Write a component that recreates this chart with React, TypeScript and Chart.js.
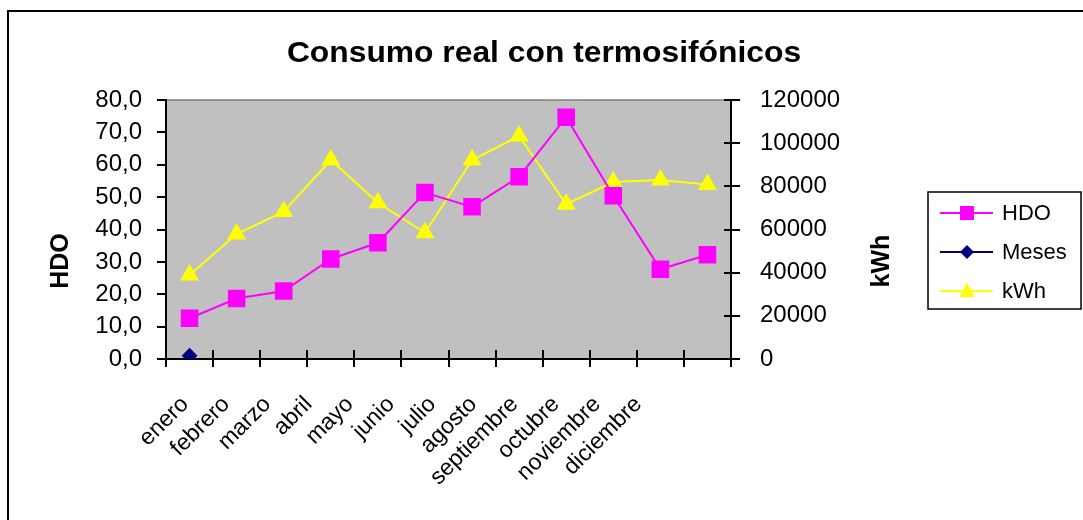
import React, { useEffect, useRef } from "react";
import { Chart, registerables } from "chart.js";

Chart.register(...registerables);

const months = ["enero", "febrero", "marzo", "abril", "mayo", "junio", "julio", "agosto", "septiembre", "octubre", "noviembre", "diciembre"];
const hdo = [12.6, 18.7, 21.0, 30.9, 35.9, 51.4, 47.0, 56.3, 74.7, 50.4, 27.7, 32.2];
const meses = [1, null, null, null, null, null, null, null, null, null, null, null];
const kwh = [38900, 57900, 68300, 92200, 72400, 58500, 92200, 103300, 71700, 82000, 82900, 80900];
const titleText = "Consumo real con termosifónicos";
const leftTitle = "HDO";
const rightTitle = "kWh";

const FONT = "'Liberation Sans', Arial, sans-serif";
const AREA = { left: 166, right: 731, top: 100, bottom: 359 };

const decor = {
  id: "decor",
  beforeDraw(chart: any) {
    const { ctx, chartArea: a } = chart;
    ctx.save();
    ctx.fillStyle = "#ffffff";
    ctx.fillRect(0, 0, chart.width, chart.height);
    ctx.fillStyle = "#C0C0C0";
    ctx.fillRect(a.left, a.top, a.right - a.left, a.bottom - a.top);
    ctx.strokeStyle = "#808080";
    ctx.lineWidth = 1.5;
    ctx.beginPath();
    ctx.moveTo(a.left, a.top);
    ctx.lineTo(a.right, a.top);
    ctx.stroke();
    ctx.strokeStyle = "#000";
    ctx.lineWidth = 2;
    ctx.beginPath();
    ctx.moveTo(8, 530);
    ctx.lineTo(8, 11);
    ctx.lineTo(1090, 11);
    ctx.stroke();
    ctx.restore();
  },
  afterDraw(chart: any) {
    const { ctx, chartArea: a, scales } = chart;
    ctx.save();
    ctx.strokeStyle = "#000";
    ctx.lineWidth = 2;
    const n = months.length;
    const step = (a.right - a.left) / n;
    ctx.beginPath();
    for (let i = 0; i <= n; i++) {
      const px = Math.round(a.left + i * step);
      ctx.moveTo(px, a.bottom);
      ctx.lineTo(px, a.bottom - 9);
    }
    const y1 = scales.y1;
    for (let v = 0; v <= 120000; v += 20000) {
      const py = Math.round(y1.getPixelForValue(v));
      ctx.moveTo(a.right, py);
      ctx.lineTo(a.right - 7, py);
    }
    ctx.stroke();
    // title
    ctx.fillStyle = "#000";
    ctx.textAlign = "center";
    ctx.textBaseline = "middle";
    ctx.font = `bold 30px ${FONT}`;
    ctx.save();
    ctx.translate(544, 54);
    ctx.scale(1.06, 1);
    ctx.fillText(titleText, 0, 0);
    ctx.restore();
    // axis titles
    ctx.font = `bold 25px ${FONT}`;
    ctx.save();
    ctx.translate(61, 261);
    ctx.rotate(-Math.PI / 2);
    ctx.fillText(leftTitle, 0, 0);
    ctx.restore();
    ctx.save();
    ctx.translate(882, 261);
    ctx.rotate(-Math.PI / 2);
    ctx.fillText(rightTitle, 0, 0);
    ctx.restore();
    // legend
    ctx.lineWidth = 1.5;
    ctx.strokeStyle = "#000";
    ctx.strokeRect(928, 192, 153, 117);
    const ys = [213, 252, 291];
    ctx.font = `22px ${FONT}`;
    ctx.textAlign = "left";
    chart.data.datasets.forEach((d: any, i: number) => {
      const yy = ys[i];
      ctx.strokeStyle = d.borderColor;
      ctx.lineWidth = 2;
      ctx.beginPath();
      ctx.moveTo(940, yy);
      ctx.lineTo(993, yy);
      ctx.stroke();
      ctx.fillStyle = d.pointBackgroundColor;
      ctx.beginPath();
      if (d.pointStyle === "rect") {
        ctx.rect(960, yy - 7, 14, 14);
      } else if (d.pointStyle === "rectRot") {
        ctx.moveTo(967, yy - 7);
        ctx.lineTo(974, yy);
        ctx.lineTo(967, yy + 7);
        ctx.lineTo(960, yy);
        ctx.closePath();
      } else {
        ctx.moveTo(967, yy - 8);
        ctx.lineTo(975, yy + 6);
        ctx.lineTo(959, yy + 6);
        ctx.closePath();
      }
      ctx.fill();
      ctx.fillStyle = "#000";
      ctx.fillText(d.label, 1002, yy + 1);
    });
    ctx.restore();
  },
};

export default function App() {
  const ref = useRef<HTMLCanvasElement | null>(null);
  useEffect(() => {
    document.body.style.margin = "0";
    const canvas = ref.current!;
    const chart = new Chart(canvas, {
      type: "line",
      data: {
        labels: months,
        datasets: [
          {
            label: "HDO",
            data: hdo,
            yAxisID: "y",
            borderColor: "#FF00FF",
            backgroundColor: "#FF00FF",
            pointBackgroundColor: "#FF00FF",
            pointBorderColor: "#FF00FF",
            pointStyle: "rect",
            pointRadius: 11,
            borderWidth: 2,
          },
          {
            label: "Meses",
            data: meses,
            yAxisID: "y",
            borderColor: "#000080",
            backgroundColor: "#000080",
            pointBackgroundColor: "#000080",
            pointBorderColor: "#000080",
            pointStyle: "rectRot",
            pointRadius: 6.5,
            borderWidth: 2,
          },
          {
            label: "kWh",
            data: kwh,
            yAxisID: "y1",
            borderColor: "#FFFF00",
            backgroundColor: "#FFFF00",
            pointBackgroundColor: "#FFFF00",
            pointBorderColor: "#FFFF00",
            pointStyle: "triangle",
            pointRadius: 9,
            borderWidth: 2,
          },
        ],
      },
      options: {
        responsive: false,
        animation: false,
        layout: { padding: { top: AREA.top, left: 0, right: 0, bottom: 0 } },
        plugins: { legend: { display: false }, title: { display: false }, tooltip: { enabled: false } },
        scales: {
          x: {
            offset: true,
            grid: { offset: true, drawOnChartArea: false, tickLength: 8, color: "#000", lineWidth: 2 },
            border: { color: "#000", width: 2 },
            ticks: { display: false },
            afterFit(s: any) { s.height = 9; },
          },
          xl: {
            type: "linear",
            position: "bottom",
            min: -0.46,
            max: 13.25,
            grid: { display: false, drawTicks: false },
            border: { display: false },
            ticks: {
              color: "#000",
              font: { family: FONT, size: 23 },
              maxRotation: 45,
              minRotation: 45,
              padding: 23,
              autoSkip: false,
              callback: (v: any) => months[v] ?? "",
            },
            afterBuildTicks(s: any) { s.ticks = months.map((_, i) => ({ value: i })); },
            afterFit(s: any) { s.height = 520 - AREA.bottom - 9; },
          },
          y: {
            position: "left",
            min: 0,
            max: 80,
            grid: { drawOnChartArea: false, tickLength: 9, color: "#000", lineWidth: 2 },
            border: { color: "#000", width: 2 },
            ticks: {
              stepSize: 10,
              color: "#000",
              padding: 15,
              font: { family: FONT, size: 24 },
              callback: (v: any) => Number(v).toFixed(1).replace(".", ","),
            },
            afterFit(s: any) { s.width = AREA.left; },
          },
          y1: {
            position: "right",
            min: 0,
            max: 120000,
            grid: { drawOnChartArea: false, tickLength: 9, color: "#000", lineWidth: 2 },
            border: { color: "#000", width: 2 },
            ticks: {
              stepSize: 20000,
              color: "#000",
              padding: 20,
              font: { family: FONT, size: 24 },
              callback: (v: any) => String(v),
            },
            afterFit(s: any) { s.width = 1083 - AREA.right; },
          },
        },
      },
      plugins: [decor],
    });
    return () => chart.destroy();
  }, []);
  return <canvas ref={ref} width={1083} height={520} style={{ display: "block" }} />;
}
